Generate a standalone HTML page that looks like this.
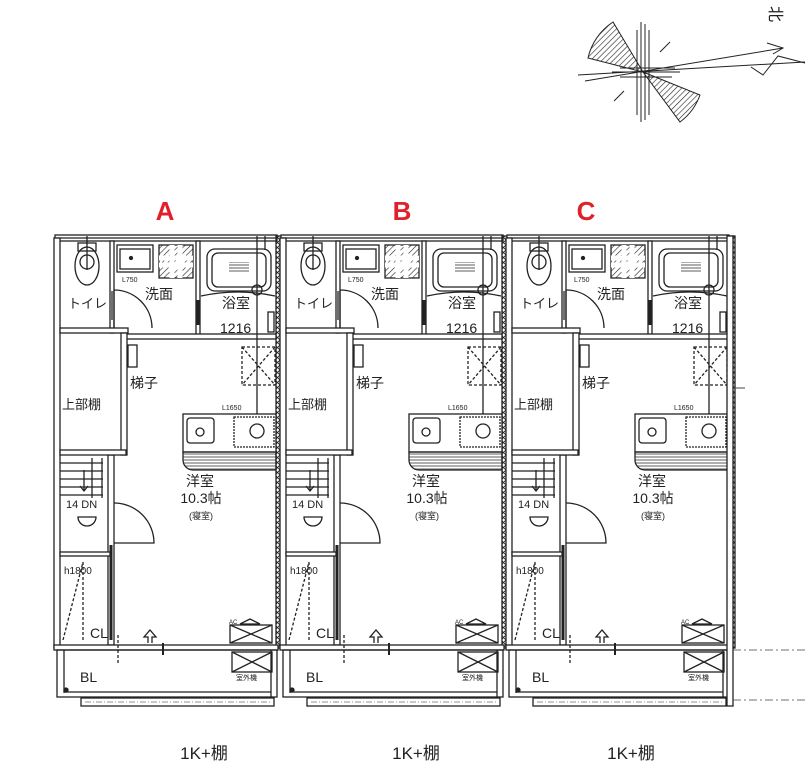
<!DOCTYPE html>
<html><head><meta charset="utf-8"><style>
html,body{margin:0;padding:0;background:#fff}
svg{display:block}
text{font-family:"Liberation Sans","Noto Sans CJK JP",sans-serif;fill:#222}
</style></head><body>
<svg width="806" height="768" viewBox="0 0 806 768" xmlns="http://www.w3.org/2000/svg">
<defs>
<pattern id="hat" width="4" height="4" patternUnits="userSpaceOnUse" patternTransform="rotate(45)"><line x1="0" y1="0" x2="0" y2="4" stroke="#222" stroke-width="1.2"/></pattern>
<pattern id="xh" width="5" height="5" patternUnits="userSpaceOnUse"><path d="M0 0L5 5M5 0L0 5" stroke="#222" stroke-width="0.9"/></pattern>
<pattern id="gr" width="3" height="3" patternUnits="userSpaceOnUse"><line x1="0" y1="1" x2="3" y2="1" stroke="#777" stroke-width="1.2"/></pattern>
<g id="unit" fill="none" stroke="#222" stroke-width="1.3">
  <rect x="55" y="235" width="222" height="6" fill="#fff"/>
  <line x1="55" y1="238" x2="277" y2="238"/>
  <rect x="54" y="238" width="6" height="410" fill="#fff"/>
  <rect x="276" y="236" width="7" height="412" fill="url(#xh)" stroke-width="1.3"/>
  <rect x="110" y="241" width="4" height="92" fill="#fff"/>
  <rect x="196" y="241" width="4" height="95" fill="#fff"/>
  <line x1="198" y1="300" x2="198" y2="325" stroke-width="4"/>
  <rect x="60" y="328" width="68" height="5" fill="#fff"/>
  <rect x="123" y="334" width="153" height="5" fill="#fff"/>
  <rect x="121" y="333" width="6" height="122" fill="#fff"/>
  <rect x="108" y="455" width="6" height="190" fill="#fff"/>
  <line x1="111" y1="545" x2="111" y2="640" stroke-width="3"/>
  <rect x="60" y="450" width="66" height="5" fill="#fff"/>
  <rect x="60" y="552" width="50" height="4" fill="#fff"/>
  <rect x="78" y="243" width="18" height="8"/>
  <ellipse cx="87" cy="266" rx="12" ry="19"/>
  <ellipse cx="87" cy="262" rx="7" ry="7"/>
  <line x1="87" y1="236" x2="87" y2="270"/>
  <text x="68" y="308" font-size="13" stroke="none">トイレ</text>
  <line x1="112" y1="291" x2="112" y2="320"/>
  <rect x="117" y="245" width="36" height="27" fill="#fff"/>
  <rect x="120" y="249" width="30" height="20"/>
  <circle cx="131" cy="258" r="1.5" fill="#222"/>
  <rect x="159" y="245" width="34" height="33" fill="url(#hat)"/>
  <path d="M172 245v33M180 245v33M159 258h34M159 265h34" stroke="#fff" stroke-width="5"/>
  <text x="122" y="282" font-size="7" stroke="none">L750</text>
  <path d="M114 290 A38 38 0 0 1 152 328" />
  <line x1="114" y1="290" x2="114" y2="328"/>
  <text x="145" y="299" font-size="14" stroke="none">洗面</text>
  <rect x="207" y="249" width="64" height="42" rx="8" fill="#fff"/>
  <rect x="212" y="253" width="54" height="34" rx="6"/>
  <rect x="229" y="262" width="20" height="10" fill="url(#gr)" stroke="none"/>
  <path d="M201 296 Q238 288 275 296"/>
  <line x1="257" y1="236" x2="257" y2="434"/>
  <circle cx="257" cy="290" r="5"/>
  <line x1="265" y1="236" x2="265" y2="250"/>
  <text x="222" y="308" font-size="14" stroke="none">浴室</text>
  <text x="220" y="333" font-size="14" stroke="none">1216</text>
  <rect x="268" y="312" width="6" height="20" fill="#fff"/>
  <rect x="128" y="345" width="9" height="22" fill="#fff"/>
  <text x="130" y="388" font-size="14" stroke="none">梯子</text>
  <text x="62" y="409" font-size="13" stroke="none">上部棚</text>
  <rect x="242" y="347" width="33" height="38" stroke-dasharray="3,2"/>
  <path d="M242 347L275 385M275 347L242 385" stroke-dasharray="3,2"/>
  <text x="222" y="410" font-size="7" stroke="none">L1650</text>
  <rect x="183" y="414" width="93" height="38" fill="#fff"/>
  <rect x="187" y="418" width="27" height="25" rx="3"/>
  <circle cx="200" cy="432" r="4"/>
  <rect x="234" y="417" width="40" height="30" stroke-dasharray="2,1"/>
  <circle cx="257" cy="431" r="7" fill="#fff"/>
  <path d="M183 452 h93 v18 h-83 a10 10 0 0 1 -10 -10z" fill="url(#gr)"/>
  <text x="200" y="486" font-size="14" stroke="none" text-anchor="middle">洋室</text>
  <text x="201" y="503" font-size="14" stroke="none" text-anchor="middle">10.3帖</text>
  <text x="201" y="519" font-size="9" stroke="none" text-anchor="middle">(寝室)</text>
  <path d="M60 463h43M60 471h43M60 479h43M60 487h43M60 495h43M92 458v40M102 458v40"/>
  <path d="M84 470v20M80 486l4 5 4-5" />
  <text x="66" y="508" font-size="11" stroke="none">14 DN</text>
  <path d="M78 517h18a9 9 0 0 1 -18 0z"/>
  <path d="M114 503 A40 40 0 0 1 154 543 H114"/>
  <text x="64" y="574" font-size="10" stroke="none">h1800</text>
  <path d="M63 640 L83 562 M83 562 V640" stroke-dasharray="3,2"/>
  <text x="90" y="638" font-size="14" stroke="none">CL</text>
  <rect x="54" y="645" width="224" height="5" fill="#fff"/>
  <line x1="163" y1="643" x2="163" y2="655" stroke-width="2"/>
  <path d="M148 643 v-6 h-4 l6 -7 6 7 h-4 v6"/>
  <line x1="118" y1="635" x2="118" y2="665" stroke-dasharray="3,2"/>
  <text x="229" y="624" font-size="6" stroke="none">AC</text>
  <path d="M240 624 l10 -5 10 5z"/>
  <rect x="230" y="625" width="42" height="18"/>
  <path d="M230 625L272 643M272 625L230 643"/>
  <rect x="232" y="652" width="40" height="20"/>
  <path d="M232 652L272 672M272 652L232 672"/>
  <text x="236" y="680" font-size="7" stroke="none">室外機</text>
  <rect x="57" y="650" width="220" height="47"/>
  <line x1="64" y1="650" x2="64" y2="693"/>
  <line x1="64" y1="692" x2="271" y2="692"/>
  <line x1="271" y1="650" x2="271" y2="697"/>
  <rect x="81" y="698" width="193" height="8" fill="#fff"/>
  <line x1="85" y1="702" x2="270" y2="702" stroke-dasharray="6,2,1,2" stroke-width="0.6"/>
  <text x="80" y="682" font-size="14" stroke="none">BL</text>
  <circle cx="66" cy="690" r="2" fill="#222"/>
</g>
</defs>
<use href="#unit"/>
<use href="#unit" x="226"/>
<use href="#unit" x="452"/>
<rect x="727" y="236" width="6" height="470" fill="#fff" stroke="#222" stroke-width="1.3"/>
<line x1="733" y1="650" x2="806" y2="650" stroke="#444" stroke-width="0.7" stroke-dasharray="8,3,2,3"/>
<line x1="733" y1="700" x2="806" y2="700" stroke="#444" stroke-width="0.7" stroke-dasharray="8,3,2,3"/>
<line x1="733" y1="388" x2="745" y2="388" stroke="#444"/>
<g font-size="26" font-weight="bold" text-anchor="middle">
<text x="165" y="220" style="fill:#e0202a">A</text>
<text x="402" y="220" style="fill:#e0202a">B</text>
<text x="586" y="220" style="fill:#e0202a">C</text>
</g>
<g font-size="17" text-anchor="middle">
<text x="204" y="759">1K+棚</text>
<text x="416" y="759">1K+棚</text>
<text x="631" y="759">1K+棚</text>
</g>
<g stroke="#222" fill="none" stroke-width="1">
<path d="M643 72 L588 58 A58 58 0 0 1 613 22 Z" fill="url(#hat)"/>
<path d="M643 72 L700 95 A58 58 0 0 1 680 122 Z" fill="url(#hat)"/>
<path d="M641 22 V122 M645 24 V120 M649 30 V115 M637 30 V115"/>
<path d="M612 72 H680 M620 68 H675 M620 77 H672"/>
<line x1="578" y1="75" x2="805" y2="62"/>
<line x1="585" y1="81" x2="783" y2="48"/>
<path d="M767 43 L783 48 L773 54"/>
<path d="M751 67 L763 75 L778 56 L805 63"/>
<path d="M614 101 L624 91 M670 42 L660 52"/>
</g>
<text x="768" y="20" font-size="16" transform="rotate(90 776 14)">北</text>
</svg>
</body></html>
